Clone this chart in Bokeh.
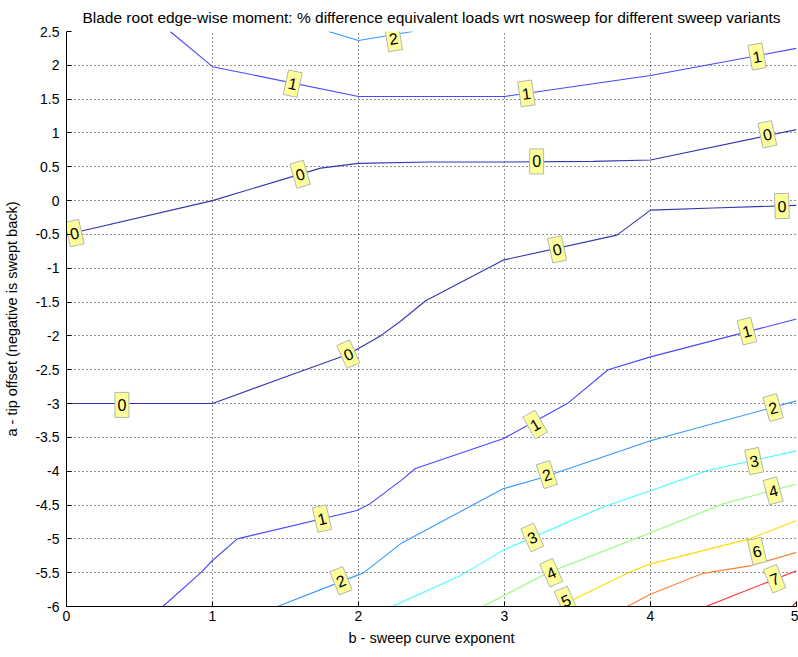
from bokeh.plotting import figure
from bokeh.models import ColumnDataSource, FixedTicker, CustomJSTickFormatter, Range1d
from bokeh.core.properties import value
from bokeh.embed import file_html
from bokeh.resources import INLINE

# ---- contour polylines (b = sweep curve exponent, a = tip offset) ----
c0_upper_b = [0.0, 1.0, 1.74, 2.0, 2.49, 3.02, 3.61, 4.0, 5.0]
c0_upper_a = [-0.5, 0.0, 0.48, 0.55, 0.57, 0.57, 0.58, 0.60, 1.05]

c0_lower_b = [0.0, 1.0, 1.47, 1.93, 2.15, 2.29, 2.46, 2.99, 3.77, 4.0, 4.43, 5.0]
c0_lower_a = [-3.0, -3.0, -2.63, -2.27, -2.0, -1.78, -1.48, -0.88, -0.51, -0.14, -0.11, -0.07]

c1_upper_b = [0.71, 1.0, 2.0, 3.0, 4.0, 5.0]
c1_upper_a = [2.5, 1.98, 1.54, 1.54, 1.85, 2.25]

c1_lower_b = [0.66, 0.92, 1.0, 1.17, 1.99, 2.08, 2.29, 2.39, 2.99, 3.43, 3.71, 4.0, 5.0]
c1_lower_a = [-6.0, -5.5, -5.32, -5.0, -4.58, -4.48, -4.14, -3.96, -3.52, -3.0, -2.5, -2.31, -1.75]

c2_upper_b = [1.795, 2.0, 2.37]
c2_upper_a = [2.5, 2.367, 2.5]

c2_lower_b = [1.445, 1.99, 2.03, 2.29, 2.99, 3.25, 4.0, 5.0]
c2_lower_a = [-6.0, -5.54, -5.51, -5.07, -4.26, -4.1, -3.55, -2.96]

c3_b = [2.23, 2.70, 2.99, 3.66, 4.0, 4.39, 5.0]
c3_a = [-6.0, -5.54, -5.17, -4.54, -4.29, -3.99, -3.70]

c4_b = [2.85, 3.29, 4.0, 4.5, 5.0]
c4_a = [-6.0, -5.51, -4.91, -4.48, -4.19]

c5_b = [3.37, 3.47, 3.84, 4.0, 4.68, 5.0]
c5_a = [-6.0, -5.9, -5.51, -5.37, -5.0, -4.73]

c6_b = [3.84, 4.0, 4.36, 4.68, 5.0]
c6_a = [-6.0, -5.82, -5.51, -5.40, -5.2]

c7_b = [4.38, 5.0]
c7_a = [-6.0, -5.47]

c8_b = [4.97, 5.0]
c8_a = [-6.0, -5.93]

level_colors = {0: "#3535b0", 1: "#4646ff", 2: "#3399ff", 3: "#40ffff",
                4: "#90ff70", 5: "#ffdd00", 6: "#ff8033", 7: "#ff2a2a", 8: "#c00000"}

contours = [
    (0, c0_upper_b, c0_upper_a), (0, c0_lower_b, c0_lower_a),
    (1, c1_upper_b, c1_upper_a), (1, c1_lower_b, c1_lower_a),
    (2, c2_upper_b, c2_upper_a), (2, c2_lower_b, c2_lower_a),
    (3, c3_b, c3_a), (4, c4_b, c4_a), (5, c5_b, c5_a),
    (6, c6_b, c6_a), (7, c7_b, c7_a), (8, c8_b, c8_a),
]

# ---- contour labels ----
label_text = ["2", "1", "1", "1", "0", "0", "0", "0", "0", "0", "0", "0",
              "1", "1", "1", "2", "2", "2", "3", "3", "4", "4", "5", "6", "7"]
label_b = [2.24, 1.55, 3.15, 4.73, 1.60, 3.22, 4.80, 0.055, 0.38, 1.93, 3.36, 4.90,
           1.75, 3.21, 4.66, 1.88, 3.29, 4.84, 3.19, 4.71, 3.32, 4.84, 3.42, 4.73, 4.85]
label_a = [2.40, 1.73, 1.585, 2.13, 0.39, 0.58, 0.98, -0.48, -3.02, -2.27, -0.72, -0.08,
           -4.70, -3.31, -1.93, -5.62, -4.05, -3.06, -4.98, -3.85, -5.50, -4.29, -5.91, -5.18, -5.59]
label_angle = [9, -12, 8, 10, 16, 0, 12, 13, 0, 24, 12, 2,
               13, 30, 14, 22, 18, 16, 24, 12, 24, 15, 24, 13, 22]

x_ticks = [0, 1, 2, 3, 4, 5]
y_ticks = [2.5, 2, 1.5, 1, 0.5, 0, -0.5, -1, -1.5, -2, -2.5, -3, -3.5, -4, -4.5, -5, -5.5, -6]

FONT = "Liberation Sans"

p = figure(width=798, height=657, output_backend="svg", toolbar_location=None,
           x_range=Range1d(0, 5), y_range=Range1d(-6, 2.5),
           title="Blade root edge-wise moment: % difference equivalent loads wrt nosweep for different sweep variants")
p.min_border_left = 66
p.min_border_right = 2
p.min_border_top = 30
p.min_border_bottom = 51
p.outline_line_color = None
p.background_fill_color = "white"
p.border_fill_color = "white"

p.title.align = "center"
p.title.text_font = FONT
p.title.text_font_size = "15.5px"
p.title.text_font_style = "normal"
p.title.text_color = "black"
p.title.standoff = 12

p.xaxis.axis_label = "b - sweep curve exponent"
p.yaxis.axis_label = "a - tip offset (negative is swept back)"
p.xaxis.ticker = FixedTicker(ticks=x_ticks)
p.yaxis.ticker = FixedTicker(ticks=y_ticks)
fmt = CustomJSTickFormatter(code="return tick.toString();")
p.xaxis.formatter = fmt
p.yaxis.formatter = fmt
for ax in (p.xaxis, p.yaxis):
    ax.axis_label_text_font = FONT
    ax.axis_label_text_font_size = "14.5px"
    ax.axis_label_text_font_style = "normal"
    ax.axis_label_text_color = "black"
    ax.major_label_text_font = FONT
    ax.major_label_text_font_size = "14px"
    ax.major_label_text_color = "black"
    ax.major_tick_in = 5
    ax.major_tick_out = 0
    ax.minor_tick_line_color = None
    ax.axis_line_color = "black"
    ax.major_tick_line_color = "black"
p.yaxis.axis_label_standoff = 12
p.xaxis.axis_label_standoff = 6
p.yaxis.major_label_standoff = 7
p.xaxis.major_label_standoff = 4

for g in (p.xgrid, p.ygrid):
    g.grid_line_color = "black"
    g.grid_line_alpha = 0.85
    g.grid_line_dash = "1 3"
    g.grid_line_width = 1

for lvl, bs, as_ in contours:
    p.line(bs, as_, line_color=level_colors[lvl], line_width=1.1)

src = ColumnDataSource(dict(x=label_b, y=label_a, text=label_text, angle=label_angle))
p.rect("x", "y", width=14, height=25, width_units="screen", height_units="screen",
       angle="angle", angle_units="deg", source=src,
       fill_color="#ffff99", line_color="#b4b4b4", line_width=1)
p.text("x", "y", text="text", angle="angle", angle_units="deg", source=src,
       text_align="center", text_baseline="middle",
       text_font=value(FONT), text_font_size="16px", text_color="black")

open("out.html", "w").write(file_html(p, INLINE))
